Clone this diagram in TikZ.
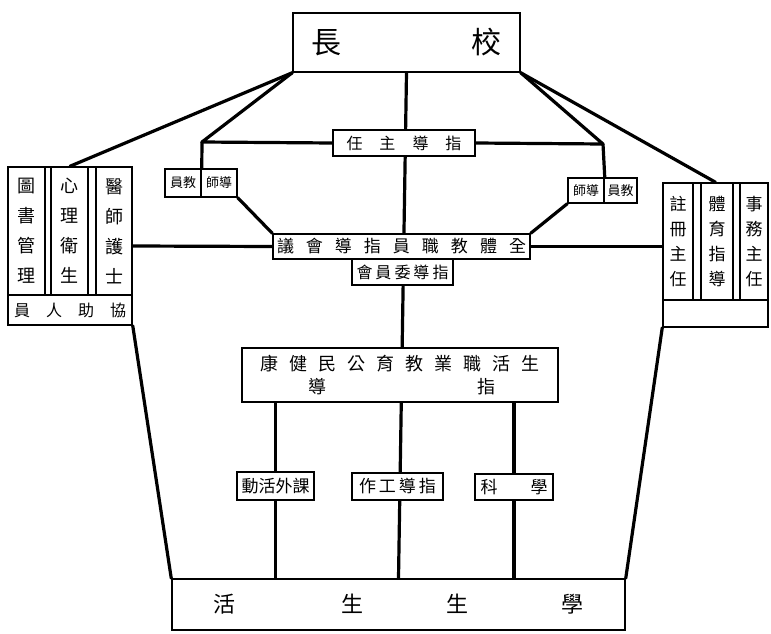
\documentclass[tikz,border=0pt]{standalone}
\usepackage{fontspec}
\newfontfamily\cjk{Noto Sans CJK TC}
\usetikzlibrary{backgrounds}
\newcommand\kk[1]{\hspace{#1pt}}
\begin{document}
\begin{tikzpicture}[x=1pt,y=-1pt,
  bx/.style={draw, line width=1.5pt, fill=white, inner sep=0pt, align=center},
  fs/.style={font=\cjk\fontsize{#1}{#1}\selectfont},
  conn/.style={line width=3.2pt, line join=round, line cap=round}]
\useasboundingbox (0,0) rectangle (771,634);
% top
\node[bx, minimum width=227pt, minimum height=59pt, fs=30] (top) at (406.5,42.5) {長\kk{130}校};
\node[bx, minimum width=142pt, minimum height=26pt, fs=16] (zd) at (404,143) {任\kk{17}主\kk{17}導\kk{17}指};
% small boxes
\node[bx, minimum width=36pt, minimum height=28pt, fs=13] (lj) at (183,183) {員教};
\node[bx, minimum width=36pt, minimum height=28pt, fs=13] (ld) at (219,183) {師導};
\node[bx, minimum width=36pt, minimum height=25pt, fs=13] (rd) at (586,190.5) {師導};
\node[bx, minimum width=33pt, minimum height=25pt, fs=13] (rj) at (620.5,190.5) {員教};
% council
\node[bx, minimum width=257pt, minimum height=25pt, fs=17] (qt) at (401.5,246.5) {議\kk{12}會\kk{12}導\kk{12}指\kk{12}員\kk{12}職\kk{12}教\kk{12}體\kk{12}全};
\node[bx, minimum width=101pt, minimum height=26pt, fs=16] (wy) at (402.5,272) {會\kk{3}員\kk{3}委\kk{3}導\kk{3}指};
% big box
\node[bx, minimum width=316pt, minimum height=54pt, font=\cjk\fontsize{18}{23}\selectfont] (big) at (400,375)
  {康\kk{11}健\kk{11}民\kk{11}公\kk{11}育\kk{11}教\kk{11}業\kk{11}職\kk{11}活\kk{11}生\\
   \makebox[279pt][l]{\kk{48}導\kk{151}指}};
% three boxes
\node[bx, minimum width=77pt, minimum height=28pt, fs=17] (b1) at (275.5,486) {動活外課};
\node[bx, minimum width=91pt, minimum height=27pt, fs=17] (b2) at (397.5,486.5) {作\kk{3}工\kk{3}導\kk{3}指};
\node[bx, minimum width=78pt, minimum height=26pt, fs=17] (b3) at (514,487) {科\kk{33}學};
% bottom
\node[bx, minimum width=453pt, minimum height=51pt, fs=22] (bot) at (398.5,604.5) {活\kk{106}生\kk{83}生\kk{93}學};
% left group
\node[bx, minimum width=124pt, minimum height=158pt] (lgrp) at (70,246) {};
\node[bx, minimum width=37pt, minimum height=128pt, font=\cjk\fontsize{18}{30}\selectfont] (lc1) at (26.5,231) {圖\\書\\管\\理};
\node[bx, minimum width=37pt, minimum height=128pt, font=\cjk\fontsize{18}{30}\selectfont] (lc2) at (69.5,231) {心\\理\\衛\\生};
\node[bx, minimum width=36pt, minimum height=128pt, font=\cjk\fontsize{18}{30}\selectfont] (lc3) at (114,231) {醫\\師\\護\\士};
\node[bx, minimum width=124pt, minimum height=30pt, fs=16] (lrow) at (70,310) {員\kk{16}人\kk{16}助\kk{16}協};
% right group
\node[bx, minimum width=105pt, minimum height=144pt] (rgrp) at (715.5,255) {};
\node[bx, minimum width=30pt, minimum height=117pt, font=\cjk\fontsize{17}{25}\selectfont] (rc1) at (678,241.5) {註\\冊\\主\\任};
\node[bx, minimum width=32pt, minimum height=117pt, font=\cjk\fontsize{17}{25}\selectfont] (rc2) at (717,241.5) {體\\育\\指\\導};
\node[bx, minimum width=28pt, minimum height=117pt, font=\cjk\fontsize{17}{25}\selectfont] (rc3) at (754,241.5) {事\\務\\主\\任};
\node[bx, minimum width=105pt, minimum height=27pt] (rrow) at (715.5,313.5) {};
% connectors
\coordinate (cl) at (202,142);
\coordinate (cr) at (603,144);
\begin{scope}[on background layer]
\draw[conn] (top.south west) -- (lgrp.north);
\draw[conn] (top.south east) -- (rgrp.north);
\draw[conn] (top.south west) -- (cl) -- (zd.west);
\draw[conn] (cl) -- (lj.north east);
\draw[conn] (top.south east) -- (cr) -- (zd.east);
\draw[conn] (cr) -- (rd.north east);
\draw[conn] (ld.south east) -- (qt.north west);
\draw[conn] (rd.south west) -- (qt.north east);
\draw[conn] (lgrp.east) -- (qt.west);
\draw[conn] (qt.east) -- (qt.east -| rgrp.west);
\draw[conn] (top.south) -- (bot.north);
\draw[conn] (b1.north |- big.south) -- (b1.south |- bot.north);
\draw[conn] (b3.north |- big.south) -- (b3.south |- bot.north);
\draw[conn] (lgrp.south east) -- (bot.north west);
\draw[conn] (rgrp.south west) -- (bot.north east);
\end{scope}
\end{tikzpicture}
\end{document}
